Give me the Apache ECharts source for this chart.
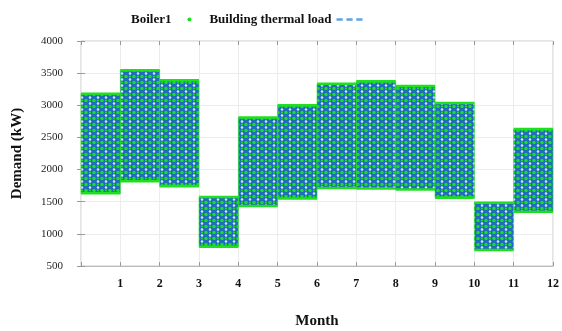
<!DOCTYPE html>
<html>
<head>
<meta charset="utf-8">
<script src="https://cdn.jsdelivr.net/npm/echarts@6/dist/echarts.min.js"></script>
<style>
  html, body { margin: 0; padding: 0; background: #fff; }
  #chart { width: 562px; height: 331px; }
</style>
</head>
<body>
<div id="chart"></div>
<script>
// monthly range of the hourly heating demand (kW)
const months = [1, 2, 3, 4, 5, 6, 7, 8, 9, 10, 11, 12];
const loadMax = [3180, 3545, 3390, 1575, 2810, 3000, 3335, 3375, 3300, 3035, 1485, 2630];
const loadMin = [1630, 1820, 1740, 800, 1435, 1550, 1715, 1705, 1690, 1560, 750, 1345];
const xTicks = [0, 1, 2, 3, 4, 5, 6, 7, 8, 9, 10, 11, 12];
const yTicks = [500, 1000, 1500, 2000, 2500, 3000, 3500, 4000];

const serif = '"Liberation Serif", "DejaVu Serif", serif';
const blue = '#1f6cbd';
const green = '#1fe01f';

// small tile patterns: blue with white spots, green dots on top
function makeTile(draw) {
  const c = document.createElement('canvas');
  c.width = 8; c.height = 6;
  draw(c.getContext('2d'));
  return c;
}
const blueTile = makeTile(ctx => {
  ctx.fillStyle = blue;
  ctx.fillRect(0, 0, 8, 6);
  ctx.fillStyle = 'rgba(235,245,255,0.9)';
  ctx.beginPath(); ctx.arc(2, 1.5, 1.2, 0, Math.PI * 2); ctx.fill();
});
const greenTile = makeTile(ctx => {
  ctx.fillStyle = 'rgba(30,225,30,0.95)';
  ctx.beginPath(); ctx.arc(6, 4.5, 1.7, 0, Math.PI * 2); ctx.fill();
  ctx.beginPath(); ctx.arc(2, 4.5, 1.1, 0, Math.PI * 2); ctx.fill();
});

const rows = months.map((m, i) => [m, loadMin[i], loadMax[i]]);

function blockItem(fill, edges) {
  return function (params, api) {
    const m = api.value(0);
    const p0 = api.coord([m - 1, api.value(2)]);
    const p1 = api.coord([m, api.value(1)]);
    const rect = {
      type: 'rect',
      shape: { x: p0[0], y: p0[1], width: p1[0] - p0[0], height: p1[1] - p0[1] },
      style: { fill: { image: fill, repeat: 'repeat' } }
    };
    if (!edges) return rect;
    const edge = y => ({
      type: 'line',
      shape: { x1: p0[0], y1: y, x2: p1[0], y2: y },
      style: { stroke: green, lineWidth: 2.5 }
    });
    rect.style.stroke = 'rgba(31,224,31,0.6)';
    rect.style.lineWidth = 1;
    return { type: 'group', children: [rect, edge(p0[1]), edge(p1[1])] };
  };
}

const chart = echarts.init(document.getElementById('chart'));
chart.setOption({
  animation: false,
  legend: {
    left: 126,
    top: 8,
    align: 'right',
    itemGap: 18,
    itemWidth: 26,
    itemHeight: 4,
    textStyle: { fontFamily: serif, fontWeight: 'bold', fontSize: 13, color: '#111' },
    data: [
      { name: 'Boiler1', icon: 'circle', itemStyle: { color: green } },
      { name: 'Building thermal load', icon: 'path://M0,0h5v2h-5zM8,0h5v2h-5zM16,0h5v2h-5z', itemStyle: { color: '#5ba3e8' } }
    ]
  },
  grid: {
    left: 81, right: 9, top: 41, bottom: 65,
    outerBoundsMode: 'none', containLabel: false,
    show: true, borderColor: '#c8c8c8', borderWidth: 1
  },
  xAxis: [
    {
      type: 'value', min: 0, max: 12, interval: 1,
      name: 'Month', nameLocation: 'middle', nameGap: 48,
      nameTextStyle: { fontFamily: serif, fontWeight: 'bold', fontSize: 15, color: '#111' },
      axisLine: { lineStyle: { color: '#bbb' } },
      axisTick: { inside: true, length: 4, lineStyle: { color: '#999' } },
      splitLine: { lineStyle: { color: '#ececec' } },
      axisLabel: {
        margin: 12, fontFamily: serif, fontWeight: 'bold', fontSize: 12, color: '#111',
        formatter: v => (xTicks.indexOf(v) > 0 ? String(v) : '')
      }
    },
    {
      type: 'value', min: 0, max: 12, interval: 1, position: 'top',
      axisLine: { show: false }, axisLabel: { show: false }, splitLine: { show: false },
      axisTick: { inside: true, length: 4, lineStyle: { color: '#999' } }
    }
  ],
  yAxis: [
    {
      type: 'value', min: yTicks[0], max: yTicks[yTicks.length - 1], interval: 500,
      name: 'Demand (kW)', nameLocation: 'middle', nameGap: 56,
      nameTextStyle: { fontFamily: serif, fontWeight: 'bold', fontSize: 15, color: '#111' },
      axisLine: { show: false },
      axisTick: { inside: true, length: 4, lineStyle: { color: '#999' } },
      splitLine: { lineStyle: { color: '#ececec' } },
      axisLabel: { margin: 18, fontFamily: serif, fontSize: 11, color: '#222', formatter: v => String(v) }
    },
    {
      type: 'value', min: yTicks[0], max: yTicks[yTicks.length - 1], interval: 500, position: 'right',
      axisLine: { show: false }, axisLabel: { show: false }, splitLine: { show: false },
      axisTick: { inside: true, length: 4, lineStyle: { color: '#999' } }
    }
  ],
  series: [
    {
      name: 'Building thermal load', type: 'custom', clip: true,
      encode: { x: 0, y: [1, 2] },
      renderItem: blockItem(blueTile, false),
      data: rows
    },
    {
      name: 'Boiler1', type: 'custom', clip: false,
      encode: { x: 0, y: [1, 2] },
      renderItem: blockItem(greenTile, true),
      data: rows
    }
  ]
});
</script>
</body>
</html>
